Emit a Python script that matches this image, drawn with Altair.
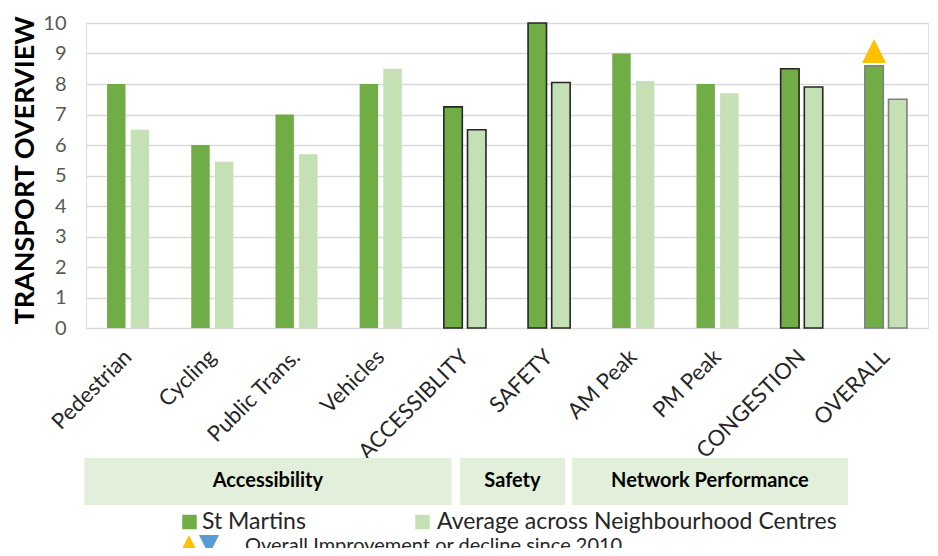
import altair as alt
import pandas as pd

# ---------------- data ----------------
categories = ["Pedestrian", "Cycling", "Public Trans.", "Vehicles", "ACCESSIBLITY",
              "SAFETY", "AM Peak", "PM Peak", "CONGESTION", "OVERALL"]
series = ["St Martins", "Average across Neighbourhood Centres"]
st_martins = [8, 6, 7, 8, 7.25, 10, 9, 8, 8.5, 8.6]
average = [6.5, 5.45, 5.7, 8.5, 6.5, 8.05, 8.1, 7.7, 7.9, 7.5]
y_ticks = [0, 1, 2, 3, 4, 5, 6, 7, 8, 9, 10]
y_title = "TRANSPORT OVERVIEW"

groups = ["Accessibility", "Safety", "Network Performance"]
group_start = [-0.02, 4.44, 5.77]   # in category-band units
group_end = [4.34, 5.69, 9.05]

trend_category = "OVERALL"
trend_value = 9.08
legend_note = "Overall Improvement or decline since 2010"

# ---------------- styles ----------------
FONT = "Lato"
DARK = "#70AD47"
LIGHT = "#C5E0B4"
outline = {"ACCESSIBLITY": "#262626", "SAFETY": "#262626",
           "CONGESTION": "#262626", "OVERALL": "#7F7F7F"}

rows = []
for c, a, b in zip(categories, st_martins, average):
    for s, v in zip(series, (a, b)):
        rows.append({"category": c, "series": s, "value": v,
                     "stroke": outline.get(c, "transparent"),
                     "sw": 1.6 if c in outline else 0})
df = pd.DataFrame(rows)

W, H = 842, 305

xscale = alt.Scale(domain=categories, paddingInner=0.5, paddingOuter=0.25)
oscale = alt.Scale(domain=series, paddingInner=0.22, paddingOuter=0)
yscale = alt.Scale(domain=[0, 10], nice=False, zero=True)
yaxis = alt.Axis(values=y_ticks, title=y_title, titleFont=FONT,
                 titleFontSize=27, titleFontWeight="bold",
                 titleColor="#000000", titleAngle=-90,
                 titleX=-53, titleY=147, titleAlign="center",
                 titleBaseline="alphabetic",
                 labelFont=FONT, labelFontSize=20, labelColor="#595959",
                 labelPadding=20, ticks=False, domain=False,
                 grid=True, gridColor="#D9D9D9", gridWidth=1.4)

bars = alt.Chart(df).mark_bar().encode(
    x=alt.X("category:N", sort=categories, scale=xscale,
            axis=alt.Axis(title=None, labelAngle=-45, labelAlign="right",
                          labelBaseline="middle", labelFontSize=22,
                          labelColor="#262626", labelFont=FONT, ticks=False,
                          domain=False, labelPadding=25, grid=False,
                          labelLimit=300)),
    xOffset=alt.XOffset("series:N", sort=series, scale=oscale),
    y=alt.Y("value:Q", scale=yscale, axis=yaxis),
    color=alt.Color("series:N", scale=alt.Scale(domain=series, range=[DARK, LIGHT]),
                    legend=None),
    stroke=alt.Stroke("stroke:N", scale=None),
    strokeWidth=alt.StrokeWidth("sw:Q", scale=None),
)

tri_df = pd.DataFrame({"category": [trend_category], "series": [series[0]],
                       "value": [trend_value]})
tri = alt.Chart(tri_df).mark_point(
    shape="M0,-1L-1,1L1,1Z", filled=True, size=576, color="#FFC000",
    opacity=1, strokeWidth=0
).encode(
    x=alt.X("category:N", sort=categories, scale=xscale, axis=None),
    xOffset=alt.XOffset("series:N", sort=series, scale=oscale),
    y=alt.Y("value:Q", scale=yscale, axis=yaxis),
)

gdf = pd.DataFrame({"group": groups, "start": group_start, "end": group_end})
gdf["mid"] = (gdf["start"] + gdf["end"]) / 2
gscale = alt.Scale(domain=[0, 10], nice=False, zero=False)

boxes = alt.Chart(gdf).mark_rect(color="#E2EFDA").encode(
    x=alt.X("start:Q", scale=gscale, axis=None), x2="end",
    y=alt.value(435), y2=alt.value(482),
)
box_text = alt.Chart(gdf).mark_text(
    font=FONT, fontWeight="bold", fontSize=20, color="#000000", baseline="middle"
).encode(
    x=alt.X("mid:Q", scale=gscale, axis=None), y=alt.value(458), text="group:N",
)

leg_df = pd.DataFrame({"series": series})
sq1 = alt.Chart(leg_df.iloc[[0]]).mark_square(size=210, opacity=1).encode(
    x=alt.value(103.5), y=alt.value(499),
    color=alt.Color("series:N", scale=alt.Scale(domain=series, range=[DARK, LIGHT]), legend=None))
sq2 = alt.Chart(leg_df.iloc[[1]]).mark_square(size=210, opacity=1).encode(
    x=alt.value(336.5), y=alt.value(499),
    color=alt.Color("series:N", scale=alt.Scale(domain=series, range=[DARK, LIGHT]), legend=None))
t1 = alt.Chart(leg_df.iloc[[0]]).mark_text(
    font=FONT, fontSize=23, color="#262626", align="left", baseline="alphabetic"
).encode(x=alt.value(116), y=alt.value(506), text="series:N")
t2 = alt.Chart(leg_df.iloc[[1]]).mark_text(
    font=FONT, fontSize=23, color="#262626", align="left", baseline="alphabetic"
).encode(x=alt.value(351), y=alt.value(506), text="series:N")

note_df = pd.DataFrame({"note": [legend_note]})
up = alt.Chart(note_df).mark_point(
    shape="M0,-1L-1,1L1,1Z", filled=True, size=400, color="#FFC000", opacity=1, strokeWidth=0
).encode(x=alt.value(103), y=alt.value(522))
down = alt.Chart(note_df).mark_point(
    shape="M-1,-1L1,-1L0,1Z", filled=True, size=400, color="#5B9BD5", opacity=1, strokeWidth=0
).encode(x=alt.value(123), y=alt.value(522))
note = alt.Chart(note_df).mark_text(
    font=FONT, fontSize=20, color="#262626", align="left", baseline="alphabetic"
).encode(x=alt.value(159), y=alt.value(529), text="note:N")

chart = alt.layer(
    bars, tri, boxes, box_text, sq1, sq2, t1, t2, up, down, note
).resolve_scale(
    x="independent", color="independent"
).properties(
    width=W, height=H,
    autosize=alt.AutoSizeParams(type="none"),
    padding={"left": 78, "top": 15, "right": 2, "bottom": 220},
).configure_view(strokeWidth=0, stroke="transparent").configure(background="white")

chart.save("out.html", embed_options={"renderer": "svg", "actions": False})
